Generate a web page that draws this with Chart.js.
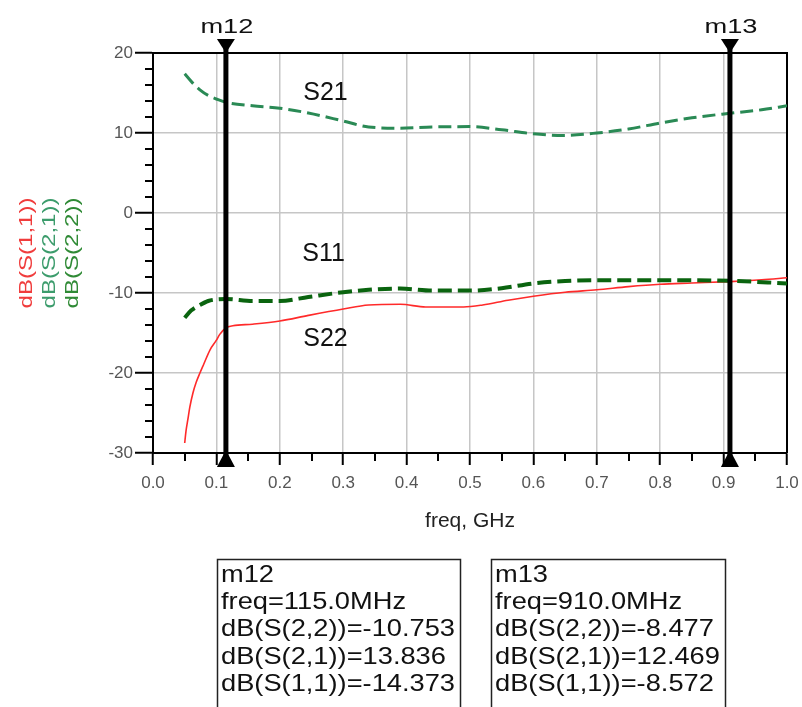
<!DOCTYPE html>
<html><head><meta charset="utf-8">
<script src="https://cdn.jsdelivr.net/npm/chart.js@4.4.1/dist/chart.umd.min.js"></script>
<style>html,body{margin:0;padding:0;background:#fff;}canvas{display:block;}</style>
</head><body>
<canvas id="c" width="802" height="707"></canvas>
<script>
// ---- data ----
const freqS21 = [0.05,0.062,0.074,0.087,0.1,0.115,0.157,0.2,0.245,0.3,0.34,0.39,0.44,0.5,0.55,0.6,0.646,0.7,0.75,0.8,0.85,0.91,0.96,1.0];
const dbS21   = [17.4,16.3,15.4,14.7,14.25,13.836,13.4,13.1,12.5,11.5,10.75,10.6,10.75,10.8,10.4,9.9,9.7,10.0,10.5,11.25,11.9,12.469,12.9,13.4];

const freqS22 = [0.05,0.06,0.074,0.087,0.1,0.115,0.157,0.2,0.245,0.3,0.34,0.39,0.44,0.5,0.55,0.6,0.65,0.7,0.8,0.91,1.0];
const dbS22   = [-13.1,-12.2,-11.5,-11.0,-10.8,-10.753,-11.0,-11.0,-10.5,-9.9,-9.6,-9.45,-9.7,-9.7,-9.4,-8.8,-8.5,-8.4,-8.4,-8.477,-8.8];

const freqS11 = [0.05,0.052,0.055,0.058,0.063,0.068,0.074,0.08,0.09,0.1,0.105,0.115,0.126,0.157,0.2,0.245,0.3,0.34,0.39,0.43,0.49,0.52,0.56,0.6,0.65,0.7,0.75,0.8,0.85,0.91,0.96,1.0];
const dbS11   = [-28.75,-27.3,-25.8,-24.3,-22.5,-21.2,-20.0,-18.9,-17.1,-15.9,-15.2,-14.373,-14.1,-13.9,-13.5,-12.8,-12.0,-11.5,-11.4,-11.75,-11.75,-11.5,-10.9,-10.4,-9.9,-9.6,-9.2,-8.9,-8.75,-8.572,-8.35,-8.1];

const markerNames   = ['m12','m13'];
const markerFreqGHz = [0.115, 0.91];
const markerFreqMHz = ['115.0','910.0'];
const markerS22     = ['-10.753','-8.477'];
const markerS21     = ['13.836','12.469'];
const markerS11     = ['-14.373','-8.572'];

const yTitleLines  = ['dB(S(1,1))','dB(S(2,1))','dB(S(2,2))'];
const curveLabels  = ['S21','S11','S22'];
const curveLabelAt = [[0.272,15.0],[0.269,-5.1],[0.272,-15.8]]; // data coords

const toPts = (xs, ys) => xs.map((x,i)=>({x, y: ys[i]}));

function stretchText(ctx, text, x, y, font, color, opts={}){
  ctx.save();
  ctx.font = font; ctx.fillStyle = color;
  ctx.textAlign = opts.align || 'left';
  ctx.textBaseline = opts.baseline || 'alphabetic';
  const w = ctx.measureText(text).width;
  const s = opts.sx || (opts.width ? opts.width / w : 1);
  ctx.translate(x, y);
  if (opts.angle) ctx.rotate(opts.angle);
  ctx.scale(s, 1);
  ctx.fillText(text, 0, 0);
  ctx.restore();
}

const decor = {
  id: 'decor',
  beforeDatasetsDraw(chart){
    const {ctx, chartArea: a, scales: {x, y}} = chart;
    ctx.save();
    ctx.strokeStyle = '#000'; ctx.lineWidth = 2;
    // minor ticks
    for (let v = -30; v <= 20.001; v += 2){
      if (Math.abs(v % 10) < 1e-6) continue;
      const py = Math.round(y.getPixelForValue(v));
      ctx.beginPath(); ctx.moveTo(a.left - 8, py); ctx.lineTo(a.left, py); ctx.stroke();
    }
    for (let k = 1; k < 20; k += 2){
      const px = Math.round(x.getPixelForValue(k * 0.05));
      ctx.beginPath(); ctx.moveTo(px, a.bottom); ctx.lineTo(px, a.bottom + 8); ctx.stroke();
    }
    // top and right frame
    ctx.lineWidth = 2;
    ctx.beginPath(); ctx.moveTo(a.left, a.top); ctx.lineTo(a.right, a.top); ctx.lineTo(a.right, a.bottom); ctx.stroke();
    ctx.restore();
  },
  afterDatasetsDraw(chart){
    const {ctx, chartArea: a, scales: {x, y}} = chart;
    ctx.save();
    // curve labels
    curveLabels.forEach((t,i)=>{
      stretchText(ctx, t, x.getPixelForValue(curveLabelAt[i][0]), y.getPixelForValue(curveLabelAt[i][1]),
        '25px Arial, "Liberation Sans", sans-serif', '#111', {align:'center', baseline:'middle'});
    });
    // markers
    markerFreqGHz.forEach((f,i)=>{
      const px = x.getPixelForValue(f);
      ctx.fillStyle = '#000'; ctx.strokeStyle = '#000';
      ctx.lineWidth = 5;
      ctx.beginPath(); ctx.moveTo(px, a.top - 12); ctx.lineTo(px, a.bottom + 6); ctx.stroke();
      ctx.beginPath(); ctx.moveTo(px - 9, a.top - 14); ctx.lineTo(px + 9, a.top - 14); ctx.lineTo(px, a.top); ctx.closePath(); ctx.fill();
      ctx.beginPath(); ctx.moveTo(px - 9, a.bottom + 14); ctx.lineTo(px + 9, a.bottom + 14); ctx.lineTo(px, a.bottom - 3); ctx.closePath(); ctx.fill();
      stretchText(ctx, markerNames[i], px + 1, a.top - 20, '21px Arial, "Liberation Sans", sans-serif', '#111',
        {align:'center', width: 53});
    });
    // y-axis title (three coloured lines)
    const yCols = ['#f03c3c','#3c9c6c','#2f8a35'];
    const cy = (a.top + a.bottom) / 2;
    yTitleLines.forEach((t,i)=>{
      stretchText(ctx, t, 27 + i * 23, cy, '19px Arial, "Liberation Sans", sans-serif', yCols[i],
        {align:'center', baseline:'middle', angle: -Math.PI/2, width: 111});
    });
    // marker readout boxes
    const boxes = [[217,460],[491,725]];
    ctx.font = '24px Arial, "Liberation Sans", sans-serif';
    const sx = 234 / ctx.measureText('dB(S(2,2))=-10.753').width;
    boxes.forEach((b,i)=>{
      ctx.strokeStyle = '#222'; ctx.lineWidth = 1.5;
      ctx.strokeRect(b[0] + 0.5, 559.5, b[1] - b[0], 170);
      const lines = [markerNames[i], 'freq=' + markerFreqMHz[i] + 'MHz',
        'dB(S(2,2))=' + markerS22[i], 'dB(S(2,1))=' + markerS21[i], 'dB(S(1,1))=' + markerS11[i]];
      lines.forEach((t,j)=>{
        stretchText(ctx, t, b[0] + 4, 582 + j * 27.2, '24px Arial, "Liberation Sans", sans-serif', '#111', {sx});
      });
    });
    ctx.restore();
  }
};

new Chart(document.getElementById('c'), {
  type: 'line',
  data: {
    datasets: [
      {label: 'dB(S(2,2))', data: toPts(freqS22, dbS22), borderColor: '#0a640f', borderWidth: 4, borderDash: [14,6],
       pointRadius: 0, cubicInterpolationMode: 'monotone', fill: false},
      {label: 'dB(S(2,1))', data: toPts(freqS21, dbS21), borderColor: '#2a8a55', borderWidth: 3, borderDash: [13,6],
       pointRadius: 0, cubicInterpolationMode: 'monotone', fill: false},
      {label: 'dB(S(1,1))', data: toPts(freqS11, dbS11), borderColor: '#ff2a2a', borderWidth: 1.6,
       pointRadius: 0, cubicInterpolationMode: 'monotone', fill: false}
    ]
  },
  options: {
    responsive: false, animation: false, events: [],
    layout: {padding: {left: 0, top: 53, right: 15, bottom: 169}},
    plugins: {legend: {display: false}, tooltip: {enabled: false}},
    scales: {
      x: {
        type: 'linear', min: 0, max: 1,
        afterFit(s){ s.height = 85; s.paddingRight = 0; s.paddingLeft = 0; },
        ticks: {stepSize: 0.1, padding: 8, color: '#555', font: {family: 'Arial, "Liberation Sans", sans-serif', size: 17},
                callback: v => v.toFixed(1), maxRotation: 0, autoSkip: false},
        grid: {color: '#c6c6c6', lineWidth: 1.5, tickLength: 12, tickColor: '#000', tickWidth: 2},
        border: {color: '#000', width: 2},
        title: {display: true, text: 'freq, GHz', color: '#222', padding: {top: 0, bottom: 4},
                font: {family: 'Arial, "Liberation Sans", sans-serif', size: 21}}
      },
      y: {
        type: 'linear', min: -30, max: 20,
        afterFit(s){ s.width = 153; s.paddingTop = 0; s.paddingBottom = 0; },
        ticks: {stepSize: 10, padding: 2, color: '#555', font: {family: 'Arial, "Liberation Sans", sans-serif', size: 17},
                callback: v => String(v)},
        grid: {color: '#c6c6c6', lineWidth: 1.5, tickLength: 18, tickColor: '#000', tickWidth: 2},
        border: {color: '#000', width: 2}
      }
    }
  },
  plugins: [decor]
});
</script>
</body></html>
